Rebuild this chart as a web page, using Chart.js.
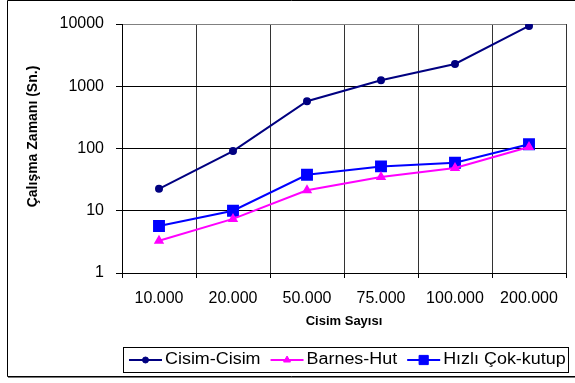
<!DOCTYPE html>
<html>
<head>
<meta charset="utf-8">
<script src="https://cdn.jsdelivr.net/npm/chart.js@4/dist/chart.umd.min.js"></script>
<style>
  html, body { margin: 0; padding: 0; background: #fff; }
  #wrap { width: 575px; height: 383px; position: relative; }
</style>
</head>
<body>
<div id="wrap"><canvas id="c" width="575" height="383"></canvas></div>
<script>
// Run times (seconds) per body count, log scale
const categories = ['10.000', '20.000', '50.000', '75.000', '100.000', '200.000'];
const cisimCisim = [22.5, 91, 575, 1250, 2280, 9300];
const barnesHut = [3.3, 7.4, 21.3, 34.8, 48.5, 106];
const hizliCokKutup = [5.7, 10, 37.8, 51.6, 59, 117];
const yTicks = [1, 10, 100, 1000, 10000];
const seriesNames = ['Cisim-Cisim', 'Barnes-Hut', 'Hızlı Çok-kutup'];
const xTitle = 'Cisim Sayısı';
const yTitle = 'Çalışma Zamanı (Sn.)';

const FONT = "'Liberation Sans', Arial, sans-serif";

// White page, outer frame and rotated y-axis title
const framePlugin = {
  id: 'frame',
  beforeDraw(chart) {
    const ctx = chart.ctx;
    ctx.save();
    ctx.fillStyle = '#fff';
    ctx.fillRect(0, 0, chart.width, chart.height);
    ctx.strokeStyle = '#000';
    ctx.lineWidth = 1;
    ctx.beginPath();
    ctx.moveTo(chart.width + 5, 0.5);
    ctx.lineTo(7.5, 0.5);
    ctx.lineTo(7.5, 376.5);
    ctx.lineTo(chart.width + 5, 376.5);
    ctx.stroke();
    ctx.strokeStyle = '#777';
    ctx.beginPath();
    ctx.moveTo(8, 377.5);
    ctx.lineTo(chart.width + 5, 377.5);
    ctx.stroke();

    ctx.translate(33, 136.5);
    ctx.rotate(-Math.PI / 2);
    ctx.fillStyle = '#000';
    ctx.font = 'bold 14px ' + FONT;
    ctx.textAlign = 'center';
    ctx.textBaseline = 'middle';
    ctx.fillText(yTitle, 0, 0);
    ctx.restore();
  }
};

function drawMarker(ctx, style, r, x, y) {
  if (style === 'circle') {
    ctx.arc(x, y, r, 0, Math.PI * 2);
  } else if (style === 'rect') {
    const s = Math.SQRT1_2 * r;
    ctx.rect(x - s, y - s, 2 * s, 2 * s);
  } else if (style === 'triangle') {
    ctx.moveTo(x, y - r);
    ctx.lineTo(x + r * 0.866, y + r * 0.5);
    ctx.lineTo(x - r * 0.866, y + r * 0.5);
    ctx.closePath();
  }
}

// Boxed legend with line + marker samples; text slightly widened
const legendPlugin = {
  id: 'boxLegend',
  afterDraw(chart) {
    const ctx = chart.ctx;
    const stretch = 1.12;
    ctx.save();
    ctx.strokeStyle = '#000';
    ctx.lineWidth = 1;
    ctx.strokeRect(123.5, 347.5, 445, 25);
    const cy = 360;
    let x = 129;
    ctx.font = '16px ' + FONT;
    ctx.textBaseline = 'middle';
    ctx.textAlign = 'left';
    chart.data.datasets.forEach(ds => {
      ctx.strokeStyle = ds.borderColor;
      ctx.lineWidth = 2;
      ctx.beginPath();
      ctx.moveTo(x, cy);
      ctx.lineTo(x + 33, cy);
      ctx.stroke();
      ctx.fillStyle = ds.pointBackgroundColor;
      ctx.strokeStyle = ds.pointBorderColor;
      ctx.lineWidth = 1;
      ctx.beginPath();
      drawMarker(ctx, ds.pointStyle, ds.legendRadius, x + 16.5, cy);
      ctx.fill();
      ctx.stroke();
      ctx.fillStyle = '#000';
      const tx = x + 36;
      ctx.save();
      ctx.translate(tx, cy);
      ctx.scale(stretch, 1);
      ctx.fillText(ds.label, 0, 0);
      ctx.restore();
      x = tx + ctx.measureText(ds.label).width * stretch + 10;
    });
    ctx.restore();
  }
};

new Chart(document.getElementById('c'), {
  type: 'line',
  data: {
    labels: categories,
    datasets: [
      {
        label: seriesNames[0], data: cisimCisim,
        borderColor: '#000080', backgroundColor: '#000080',
        pointBackgroundColor: '#000080', pointBorderColor: '#000080',
        pointStyle: 'circle', pointRadius: 3, legendRadius: 3,
        borderWidth: 2, tension: 0
      },
      {
        label: seriesNames[1], data: barnesHut,
        borderColor: '#FF00FF', backgroundColor: '#FF00FF',
        pointBackgroundColor: '#FF00FF', pointBorderColor: '#FF00FF',
        pointStyle: 'triangle', pointRadius: 4, legendRadius: 4,
        borderWidth: 2, tension: 0
      },
      {
        label: seriesNames[2], data: hizliCokKutup,
        borderColor: '#0000FF', backgroundColor: '#0000FF',
        pointBackgroundColor: '#0000FF', pointBorderColor: '#0000FF',
        pointStyle: 'rect', pointRadius: 7, legendRadius: 6.5,
        borderWidth: 2, tension: 0
      }
    ]
  },
  options: {
    responsive: false,
    animation: false,
    devicePixelRatio: 1,
    layout: { padding: { top: 24, right: 5, left: 0, bottom: 0 } },
    plugins: {
      legend: { display: false },
      tooltip: { enabled: false }
    },
    elements: { point: { borderWidth: 1 }, line: { borderWidth: 2 } },
    scales: {
      x: {
        type: 'category',
        offset: true,
        afterFit(scale) { scale.height = 110; },
        grid: {
          offset: true,
          color: c => (c.index === categories.length ? '#808080' : '#333'),
          tickColor: '#000',
          tickLength: 5,
          lineWidth: 1
        },
        border: { color: '#000', width: 1 },
        ticks: {
          color: '#000',
          font: { family: FONT, size: 16 },
          padding: 11,
          maxRotation: 0,
          autoSkip: false
        },
        title: {
          display: true,
          text: xTitle,
          color: '#000',
          font: { family: FONT, size: 13, weight: 'bold' },
          padding: { top: 0, bottom: 54 }
        }
      },
      y: {
        type: 'logarithmic',
        min: 1,
        max: 10000,
        afterFit(scale) { scale.width = 122; },
        afterBuildTicks(scale) { scale.ticks = yTicks.map(v => ({ value: v })); },
        grid: {
          color: c => (c.tick && c.tick.value === 10000 ? '#808080' : '#000'),
          tickColor: '#000',
          tickLength: 6,
          lineWidth: 1
        },
        border: { color: '#000', width: 1 },
        ticks: {
          color: '#000',
          font: { family: FONT, size: 16 },
          padding: 12,
          callback: v => String(v)
        }
      }
    }
  },
  plugins: [framePlugin, legendPlugin]
});
</script>
</body>
</html>
